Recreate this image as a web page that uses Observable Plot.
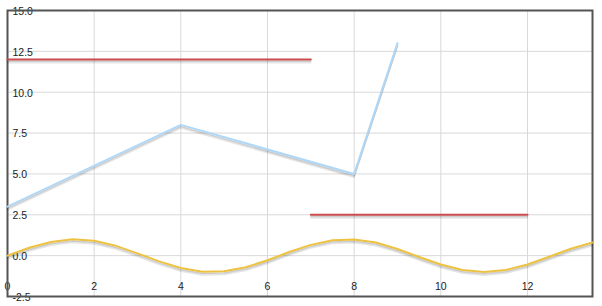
<!DOCTYPE html>
<html>
<head>
<meta charset="utf-8">
<script src="https://cdn.jsdelivr.net/npm/d3@7"></script>
<script src="https://cdn.jsdelivr.net/npm/@observablehq/plot@0.6"></script>
<style>
  html, body { margin: 0; padding: 0; background: #fff; }
  #chart svg { display: block; }
</style>
</head>
<body>
<div id="chart"></div>
<script>
// Sine series (yellow)
const sineX = [0,0.5,1,1.5,2,2.5,3,3.5,4,4.5,5,5.5,6,6.5,7,7.5,8,8.5,9,9.5,10,10.5,11,11.5,12,12.5,13,13.5];
const sineY = [0,0.48,0.84,1.00,0.91,0.60,0.14,-0.35,-0.76,-0.98,-0.96,-0.71,-0.28,0.22,0.66,0.94,0.99,0.80,0.41,-0.08,-0.54,-0.88,-1.00,-0.88,-0.54,-0.07,0.42,0.80];
// Blue series
const blueX = [0,4,8,9];
const blueY = [3,8,5,13];
// Red series (two segments)
const redX = [0,7,7,12];
const redY = [12,12,2.5,2.5];
const redSeg = ["a","a","b","b"];
// Ticks
const xTicks = [0,2,4,6,8,10,12];
const yTicks = [-2.5,0,2.5,5,7.5,10,12.5,15];
const yLabels = ["-2.5","0.0","2.5","5.0","7.5","10.0","12.5","15.0"];

const sine = sineX.map((x,i)=>({x, y: sineY[i]}));
const blue = blueX.map((x,i)=>({x, y: blueY[i]}));
const red = redX.map((x,i)=>({x, y: redY[i], s: redSeg[i]}));
const yLab = yTicks.map((v,i)=>({v, t: yLabels[i]}));

function seriesMarks(data, color, extra = {}) {
  return [
    Plot.line(data, {x:"x", y:"y", ...extra, stroke:"rgba(0,0,0,0.1)", strokeWidth:1.5, dy:3.25, curve:"linear"}),
    Plot.line(data, {x:"x", y:"y", ...extra, stroke:"rgba(0,0,0,0.2)", strokeWidth:1.5, dy:1.75, curve:"linear"}),
    Plot.line(data, {x:"x", y:"y", ...extra, stroke:color, strokeWidth:2, curve:"linear"})
  ];
}

const chart = Plot.plot({
  width: 602,
  height: 306,
  marginLeft: 7,
  marginRight: 10,
  marginTop: 10,
  marginBottom: 10,
  style: {fontFamily: "'Liberation Sans', Arial, sans-serif", fontSize: "10px", background: "#fff"},
  x: {domain: [0, 13.5], axis: null},
  y: {domain: [-2.5, 15], axis: null},
  marks: [
    Plot.gridX(xTicks, {stroke: "#d9d9d9", strokeOpacity: 1, strokeWidth: 1}),
    Plot.gridY(yTicks, {stroke: "#d9d9d9", strokeOpacity: 1, strokeWidth: 1}),
    Plot.text(yLab, {x: () => 0, y: "v", text: "t", textAnchor: "start", dx: 5, dy: 1, fill: "#1a1a1a", fontSize: 10.5}),
    Plot.text(xTicks, {x: d => d, y: () => -2.5, text: d => String(d), dy: -10, fill: "#1a1a1a", fontSize: 10.5}),
    Plot.frame({stroke: "#545454", strokeWidth: 2}),
    ...seriesMarks(sine, "#edc240"),
    ...seriesMarks(blue, "#afd8f8"),
    ...seriesMarks(red, "#cb4b4b", {z: "s"})
  ]
});
document.getElementById("chart").appendChild(chart);
</script>
</body>
</html>
